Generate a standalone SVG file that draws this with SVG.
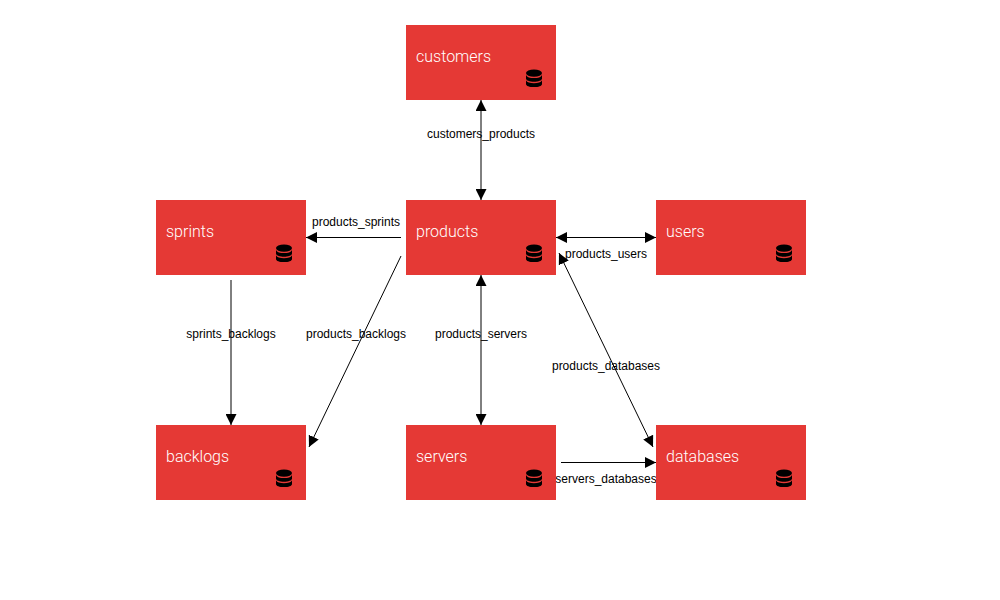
<svg xmlns="http://www.w3.org/2000/svg" width="1000" height="600" viewBox="0 0 1000 600">
<style>
.box{fill:#e53935}
.name{font-family:Roboto,"Liberation Sans",sans-serif;font-size:16px;font-weight:300;fill:#fff}
.lbl{font-family:"Liberation Sans",Arial,sans-serif;font-size:12px;fill:#000;text-anchor:middle}
.edge{fill:none;stroke:#000;stroke-width:1}
.disk{fill:#000}
</style>
<defs>
<marker id="end" viewBox="0 0 11 11" refX="11" refY="5.500" markerWidth="11" markerHeight="11" markerUnits="userSpaceOnUse" orient="auto"><path d="M0 0L11 5.500L0 11Z" fill="#000"/></marker>
<marker id="start" viewBox="0 0 11 11" refX="0" refY="5.500" markerWidth="11" markerHeight="11" markerUnits="userSpaceOnUse" orient="auto"><path d="M11 0L0 5.500L11 11Z" fill="#000"/></marker>
<g id="db">
<ellipse class="disk" cx="8" cy="3.600" rx="8" ry="3.600"/>
<path class="disk" d="M0 5.400C1 7.800 4 8.600 8 8.600S15 7.800 16 5.400V9C16 11 12.400 12.200 8 12.200S0 11 0 9Z"/>
<path class="disk" d="M0 10.800C1 13 4 13.800 8 13.800S15 13 16 10.800V14.400C16 16.400 12.400 17.600 8 17.600S0 16.400 0 14.400Z"/>
</g>
</defs>
<g id="connectors">
<line class="edge" x1="481" y1="100" x2="481" y2="200" marker-start="url(#start)" marker-end="url(#end)"/>
<line class="edge" x1="401" y1="237.500" x2="306" y2="237.500" marker-end="url(#end)"/>
<line class="edge" x1="556" y1="237.500" x2="656" y2="237.500" marker-start="url(#start)" marker-end="url(#end)"/>
<line class="edge" x1="401" y1="256" x2="309" y2="447" marker-end="url(#end)"/>
<line class="edge" x1="481" y1="275" x2="481" y2="425" marker-start="url(#start)" marker-end="url(#end)"/>
<line class="edge" x1="559" y1="253" x2="653" y2="447" marker-start="url(#start)" marker-end="url(#end)"/>
<line class="edge" x1="231" y1="280" x2="231" y2="425" marker-end="url(#end)"/>
<line class="edge" x1="561" y1="462.500" x2="656" y2="462.500" marker-end="url(#end)"/>
<text class="lbl" x="481" y="138">customers_products</text>
<text class="lbl" x="356" y="226">products_sprints</text>
<text class="lbl" x="606" y="258">products_users</text>
<text class="lbl" x="231" y="338">sprints_backlogs</text>
<text class="lbl" x="356" y="338">products_backlogs</text>
<text class="lbl" x="481" y="338">products_servers</text>
<text class="lbl" x="606" y="370">products_databases</text>
<text class="lbl" x="606" y="483">servers_databases</text>
</g>
<g id="customers"><rect class="box" x="406" y="25" width="150" height="75"/><text class="name" x="416" y="62">customers</text><use href="#db" x="526" y="69.500"/></g>
<g id="products"><rect class="box" x="406" y="200" width="150" height="75"/><text class="name" x="416" y="237">products</text><use href="#db" x="526" y="244.500"/></g>
<g id="sprints"><rect class="box" x="156" y="200" width="150" height="75"/><text class="name" x="166" y="237">sprints</text><use href="#db" x="276" y="244.500"/></g>
<g id="users"><rect class="box" x="656" y="200" width="150" height="75"/><text class="name" x="666" y="237">users</text><use href="#db" x="776" y="244.500"/></g>
<g id="backlogs"><rect class="box" x="156" y="425" width="150" height="75"/><text class="name" x="166" y="462">backlogs</text><use href="#db" x="276" y="469.500"/></g>
<g id="servers"><rect class="box" x="406" y="425" width="150" height="75"/><text class="name" x="416" y="462">servers</text><use href="#db" x="526" y="469.500"/></g>
<g id="databases"><rect class="box" x="656" y="425" width="150" height="75"/><text class="name" x="666" y="462">databases</text><use href="#db" x="776" y="469.500"/></g>
</svg>
